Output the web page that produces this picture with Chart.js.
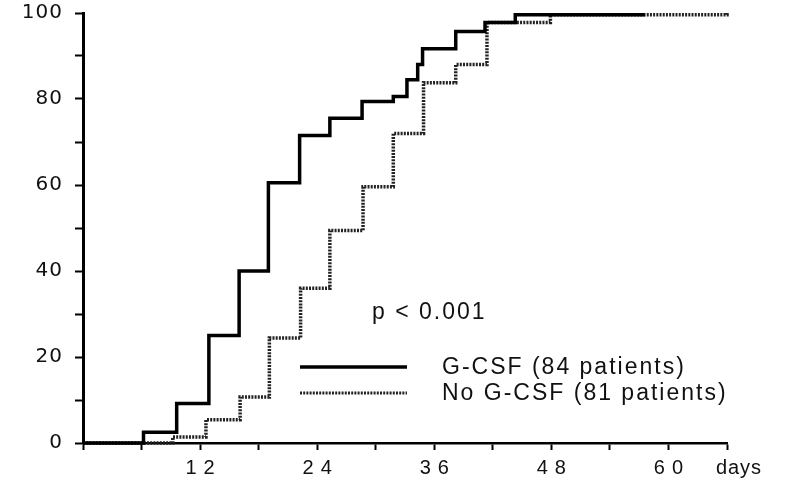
<!DOCTYPE html>
<html>
<head>
<meta charset="utf-8">
<script src="https://cdn.jsdelivr.net/npm/chart.js@4/dist/chart.umd.min.js"></script>
<style>
  html, body { margin: 0; padding: 0; background: #fff; }
  #wrap { width: 788px; height: 485px; }
</style>
</head>
<body>
<div id="wrap"><canvas id="chart"></canvas></div>
<script>
// Kaplan-Meier style recovery curves
const gcsfDays = [0, 6.2, 9.6, 12.9, 16, 19, 22.2, 25.3, 28.6, 31.8, 33.2, 34.3, 34.8, 38.2, 41.2, 44.3, 57.4];
const gcsfPct = [0, 2.5, 9.2, 25, 40, 60.5, 71.5, 75.5, 79.4, 80.6, 84.5, 88, 91.7, 95.7, 97.8, 99.6, 100];
const noDays = [0, 9.2, 12.6, 16.1, 19.1, 22.3, 25.3, 28.7, 31.8, 34.9, 38.2, 41.4, 47.9, 66];
const noPct = [0, 1.4, 5.4, 10.7, 24.4, 36, 49.4, 59.6, 72, 83.8, 88, 97.8, 99.6, 100];

const xLabels = [12, 24, 36, 48, 60];
const yLabels = [0, 20, 40, 60, 80, 100];
const seriesNames = ["G-CSF (84 patients)", "No G-CSF (81 patients)"];
const pText = "p < 0.001";
const unitText = "days";

const font = "'Liberation Sans', Arial, Helvetica, sans-serif";
const wideFont = "'DejaVu Sans', 'Liberation Sans', sans-serif";

function toPoints(xs, ys) {
  return xs.map((x, i) => ({ x: x, y: ys[i] }));
}

// letter spacing on tick labels (the scan is stretched sideways)
const spacing = {
  id: "spacing",
  beforeDraw(chart) {
    [["x", "7px"], ["y", "1px"]].forEach(([id, sp]) => {
      const s = chart.scales[id];
      if (s._spaced) return;
      const orig = s.drawLabels;
      s.drawLabels = function (area) {
        const c = this.ctx;
        const prev = c.letterSpacing;
        c.letterSpacing = sp;
        orig.call(this, area);
        c.letterSpacing = prev;
      };
      s._spaced = true;
    });
  },
};

const notes = {
  id: "notes",
  afterDraw(chart) {
    const ctx = chart.ctx;
    const xs = chart.scales.x;
    const ds = chart.data.datasets;
    ctx.save();
    ctx.fillStyle = "#111";
    ctx.textBaseline = "middle";
    ctx.letterSpacing = "2px";
    ctx.font = "23px " + font;
    ctx.textAlign = "left";
    ctx.fillText(pText, 372, 313);

    const rows = [367, 393];
    rows.forEach((y, i) => {
      ctx.save();
      ctx.strokeStyle = ds[i].borderColor;
      ctx.lineWidth = i === 0 ? 3.5 : 3;
      ctx.setLineDash(ds[i].borderDash || []);
      ctx.beginPath();
      ctx.moveTo(300, y);
      ctx.lineTo(407, y);
      ctx.stroke();
      ctx.restore();
      ctx.fillText(seriesNames[i], 442, y + 1);
    });

    ctx.font = "20px " + font;
    ctx.letterSpacing = "1px";
    ctx.textAlign = "center";
    ctx.fillText(unitText, xs.getPixelForValue(66) + 12, 468);
    ctx.restore();
  },
};

const chart = new Chart(document.getElementById("chart"), {
  type: "line",
  data: {
    datasets: [
      {
        label: seriesNames[0],
        data: toPoints(gcsfDays, gcsfPct),
        stepped: true,
        borderColor: "#000",
        borderWidth: 3.5,
        pointRadius: 0,
        fill: false,
        clip: 6,
      },
      {
        label: seriesNames[1],
        data: toPoints(noDays, noPct),
        stepped: true,
        borderColor: "#222",
        borderWidth: 3.5,
        borderDash: [2, 1.2],
        pointRadius: 0,
        fill: false,
        clip: 6,
      },
    ],
  },
  options: {
    responsive: true,
    maintainAspectRatio: false,
    animation: false,
    layout: { padding: { top: 13, right: 61, left: 0, bottom: 0 } },
    plugins: {
      legend: { display: false },
      tooltip: { enabled: false },
    },
    scales: {
      x: {
        type: "linear",
        min: 0,
        max: 66,
        afterFit: (s) => { s.height = 42; s.paddingLeft = 0; s.paddingRight = 0; },
        border: { display: true, color: "#000", width: 2.5 },
        grid: { display: true, drawOnChartArea: false, color: "#000", tickLength: 7, tickWidth: 2 },
        ticks: {
          stepSize: 6,
          autoSkip: false,
          maxRotation: 0,
          padding: 6,
          labelOffset: 3.5,
          color: "#111",
          font: { family: font, size: 20 },
          callback: (v) => (xLabels.includes(v) ? String(v) : ""),
        },
      },
      y: {
        min: 0,
        max: 100,
        afterFit: (s) => { s.width = 83; s.paddingTop = 0; s.paddingBottom = 0; },
        border: { display: true, color: "#000", width: 3 },
        grid: { display: true, drawOnChartArea: false, color: "#000", tickLength: 8, tickWidth: 2 },
        ticks: {
          stepSize: 10,
          autoSkip: false,
          padding: 12,
          color: "#111",
          font: { family: wideFont, size: 20 },
          callback: (v) => (yLabels.includes(v) ? String(v) : ""),
        },
      },
    },
  },
  plugins: [spacing, notes],
});
chart.draw();
</script>
</body>
</html>
